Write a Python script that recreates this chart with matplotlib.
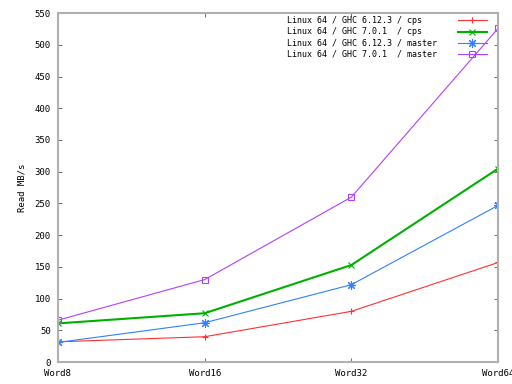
import matplotlib
matplotlib.use("Agg")
import matplotlib.pyplot as plt

# benchmark data
categories = ["Word8", "Word16", "Word32", "Word64"]
labels = [
    "Linux 64 / GHC 6.12.3 / cps",
    "Linux 64 / GHC 7.0.1  / cps",
    "Linux 64 / GHC 6.12.3 / master",
    "Linux 64 / GHC 7.0.1  / master",
]
ghc6_cps = [32, 40, 80, 157]
ghc7_cps = [61, 77, 153, 305]
ghc6_master = [31, 62, 122, 247]
ghc7_master = [66, 130, 260, 526]

series = [ghc6_cps, ghc7_cps, ghc6_master, ghc7_master]
colors = ["#ff3030", "#00b000", "#3080ff", "#b040ff"]
markers = ["+", "x", (8, 2, 0), "s"]
sizes = [5, 5, 6.5, 5]
widths = [0.8, 1.5, 0.8, 0.8]

fig = plt.figure(figsize=(5.12, 3.84), dpi=100)
ax = fig.add_axes([0.113, 0.057, 0.86, 0.909])

# pad labels so the monospace text stays left aligned
width = max(len(l) for l in labels)
x = range(len(categories))
for vals, lab, c, m, ms, lw in zip(series, labels, colors, markers, sizes, widths):
    ax.plot(x, vals, color=c, marker=m, lw=lw, ms=ms, mew=0.8,
            fillstyle="none", label=lab.ljust(width))

ax.set_xlim(0, 3)
ax.set_ylim(0, 550)
ax.set_xticks(list(x))
ax.set_xticklabels(categories)
ax.set_yticks(range(0, 551, 50))
ax.set_ylabel("Read MB/s", family="DejaVu Sans Mono", fontsize=6.5,
              labelpad=6)

for s in ax.spines.values():
    s.set_color("#b0b0b0")
    s.set_linewidth(1.5)
ax.tick_params(direction="in", length=3, width=0.6, color="#555555",
               top=True, right=True, labelsize=6.5, pad=5)
for t in ax.get_xticklabels() + ax.get_yticklabels():
    t.set_family("DejaVu Sans Mono")

leg = ax.legend(loc="upper right", bbox_to_anchor=(0.982, 1.0),
                frameon=False, markerfirst=False,
                prop={"family": "DejaVu Sans Mono", "size": 6},
                handlelength=3.5, handletextpad=2.5, labelspacing=0.25,
                borderaxespad=0.2, borderpad=0.2)

fig.savefig("out.png", dpi=100)
